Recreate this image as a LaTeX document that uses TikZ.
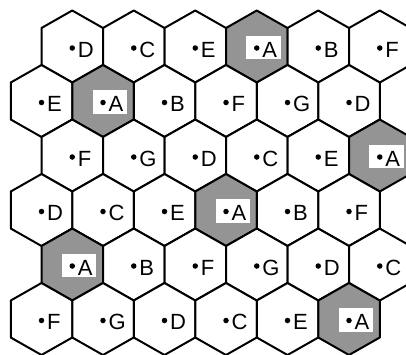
\documentclass[tikz,border=0pt]{standalone}
\usepackage{fontspec}
\setmainfont{Liberation Sans}
\usepackage{tikz}
\usetikzlibrary{positioning}
\tikzset{
  hexline/.style={draw=black, line width=2pt, line join=round},
  celldot/.style={circle, fill=black, minimum size=5.5pt, inner sep=0pt},
  cellletter/.style={inner sep=0pt, font=\fontsize{22}{22}\selectfont},
}
\newcommand{\hexat}[3]{%
  % centre of cell in column #1, row #2 (even rows sit half a cell to the right)
  \pgfmathsetmacro{\hx}{41.5+61.5*#1+30.75*mod(#2+1,2)}
  \pgfmathsetmacro{\hy}{46.5+54.5*#2}
  \draw[hexline, fill=#3] (\hx,\hy-36) -- ++(30.75,17.5) -- ++(0,37)
    -- ++(-30.75,17.5) -- ++(-30.75,-17.5) -- ++(0,-37) -- cycle;
}
\newcommand{\hexlabel}[3]{%
  \node[celldot] (d#2#1) at (\hx,\hy+1.5) {};
  \node[cellletter, right=2.5pt of d#2#1, yshift=-1.5pt] (l#2#1) {#3};
}
\newcommand{\hexcell}[3]{%
  \hexat{#1}{#2}{white}
  \hexlabel{#1}{#2}{#3}
}
\newcommand{\homecell}[2]{%
  \hexat{#1}{#2}{black!42}
  \fill[white] (\hx-10.5,\hy-11) rectangle (\hx+24,\hy+12.5);
  \hexlabel{#1}{#2}{A}
}

\begin{document}
\begin{tikzpicture}[x=1pt, y=-1pt]
  \useasboundingbox (0,0) rectangle (406,354);
  % row 0
  \hexcell{0}{0}{D}\hexcell{1}{0}{C}\hexcell{2}{0}{E}
  \homecell{3}{0}\hexcell{4}{0}{B}\hexcell{5}{0}{F}
  % row 1
  \hexcell{0}{1}{E}\homecell{1}{1}\hexcell{2}{1}{B}
  \hexcell{3}{1}{F}\hexcell{4}{1}{G}\hexcell{5}{1}{D}
  % row 2
  \hexcell{0}{2}{F}\hexcell{1}{2}{G}\hexcell{2}{2}{D}
  \hexcell{3}{2}{C}\hexcell{4}{2}{E}\homecell{5}{2}
  % row 3
  \hexcell{0}{3}{D}\hexcell{1}{3}{C}\hexcell{2}{3}{E}
  \homecell{3}{3}\hexcell{4}{3}{B}\hexcell{5}{3}{F}
  % row 4
  \homecell{0}{4}\hexcell{1}{4}{B}\hexcell{2}{4}{F}
  \hexcell{3}{4}{G}\hexcell{4}{4}{D}\hexcell{5}{4}{C}
  % row 5
  \hexcell{0}{5}{F}\hexcell{1}{5}{G}\hexcell{2}{5}{D}
  \hexcell{3}{5}{C}\hexcell{4}{5}{E}\homecell{5}{5}
\end{tikzpicture}
\end{document}
